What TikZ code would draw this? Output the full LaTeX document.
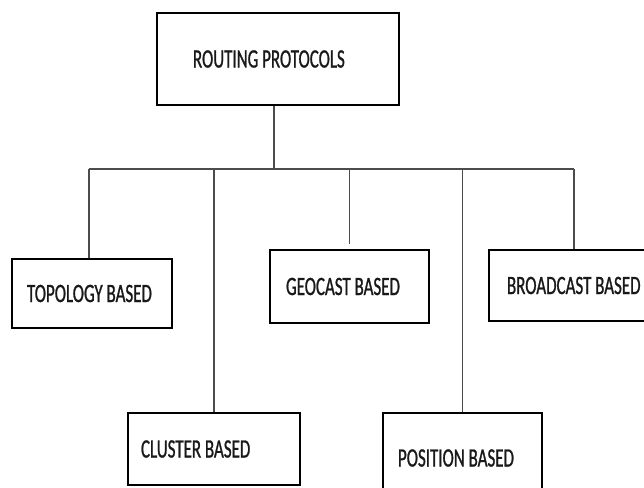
\documentclass[tikz,border=0pt]{standalone}
\usepackage{fontspec}
\newfontfamily\protofont[FakeStretch=0.64,FakeBold=0.9]{Carlito}

\begin{document}
\begin{tikzpicture}[x=1pt,y=-1pt,
        proto/.style = {draw, line width=1.6pt, align=flush left, text=black!90,
          font=\protofont\fontsize{26.5}{30}\selectfont},
        link/.style = {line width=1.5pt, black!70}]
        \useasboundingbox (0,0) rectangle (644,487);

        \node[proto, minimum width=242pt, minimum height=92pt, inner xsep=36pt, text width=170pt](root) at (278,59){ROUTING PROTOCOLS};
        \node[proto, minimum width=160pt, minimum height=69pt, inner xsep=15pt, text width=130pt](topo) at (92,293.5){TOPOLOGY~BASED};
        \node[proto, minimum width=172pt, minimum height=72pt, inner xsep=13pt, text width=146pt](clus) at (214,449){CLUSTER BASED};
        \node[proto, minimum width=159pt, minimum height=73pt, inner xsep=16pt, text width=127pt](geo) at (349.5,286.5){GEOCAST BASED};
        \node[proto, minimum width=159pt, minimum height=90pt, inner xsep=15pt, text width=129pt](pos) at (462.5,458){POSITION BASED};
        \node[proto, minimum width=175pt, minimum height=71pt, inner xsep=18pt, text width=139pt](broad) at (576.5,285.5){BROADCAST BASED};

        \coordinate (busL) at (89,169);
        \coordinate (busR) at (574,169);

        \draw[link] ([xshift=-4pt]root.south) -- ([xshift=-4pt]root.south |- busL);
        \draw[link] (busL) -- (busR);
        \draw[link]
        (busL) -- (busL |- topo.north)
        (clus.north |- busL) -- (clus.north)
        (geo.north |- busL) -- ([yshift=5pt]geo.north)
        (pos.north |- busL) -- (pos.north)
        (busR) -- (busR |- broad.north)
        ;
      \end{tikzpicture}
\end{document}
